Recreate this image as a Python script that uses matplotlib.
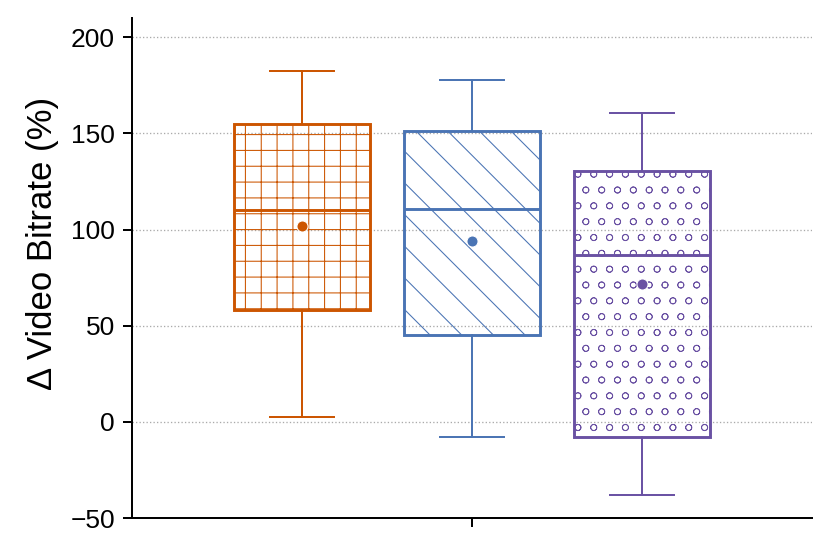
import matplotlib
matplotlib.use("Agg")

import matplotlib.pyplot as plt

# box statistics (values in %)
labels = ['A', 'B', 'C']
whislo = [2.6, -7.8, -38.0]
q1 = [58.3, 45.3, -7.8]
med = [109.9, 110.9, 87.0]
q3 = [154.7, 151.0, 130.2]
whishi = [182.3, 177.6, 160.4]
means = [101.6, 93.8, 71.9]

colors = ['#cc5500', '#4a74b4', '#6a51a3']
hatches = ['++', '\\\\', 'oo']
hatch_lw = [0.4, 0.4, 0.3]
positions = [-0.25, 0.0, 0.25]

DPI = 190
plt.rcParams['font.family'] = ['Liberation Sans', 'DejaVu Sans']

fig = plt.figure(figsize=(831 / DPI, 552 / DPI), dpi=DPI)
ax = fig.add_axes([132 / 831, 1 - 518 / 552, 680 / 831, 500 / 552])

for i in range(len(labels)):
  stats = [{'label': labels[i], 'whislo': whislo[i], 'q1': q1[i], 'med': med[i],
            'q3': q3[i], 'whishi': whishi[i], 'mean': means[i], 'fliers': []}]
  c = colors[i]
  plt.rcParams['hatch.color'] = c
  plt.rcParams['hatch.linewidth'] = hatch_lw[i]
  ax.bxp(stats, positions=[positions[i]], widths=0.2, patch_artist=True,
         showmeans=True, capwidths=0.095,
         boxprops=dict(facecolor='none', edgecolor=c, linewidth=1.1, hatch=hatches[i]),
         medianprops=dict(color=c, linewidth=1.1),
         whiskerprops=dict(color=c, linewidth=0.75),
         capprops=dict(color=c, linewidth=0.75),
         meanprops=dict(marker='o', markerfacecolor=c, markeredgecolor='white',
                        markeredgewidth=0.4, markersize=4.2))

ax.set_xlim(-0.5, 0.5)
ax.set_ylim(-50, 210)
ax.set_xticks([0])
ax.set_xticklabels([''])
ax.set_yticks([-50, 0, 50, 100, 150, 200])
ax.tick_params(axis='both', labelsize=10, length=3.4, width=0.75, color='black', pad=3)
ax.set_ylabel('\u0394 Video Bitrate (%)', fontsize=13.2)
ax.yaxis.set_label_coords(-0.107, 0.55)
ax.yaxis.grid(True, linestyle=':', color='#aaaaaa', linewidth=0.5)
ax.set_axisbelow(True)
for side in ['top', 'right']:
  ax.spines[side].set_visible(False)
for side in ['left', 'bottom']:
  ax.spines[side].set_linewidth(0.75)

fig.savefig('out.png', dpi=DPI)
